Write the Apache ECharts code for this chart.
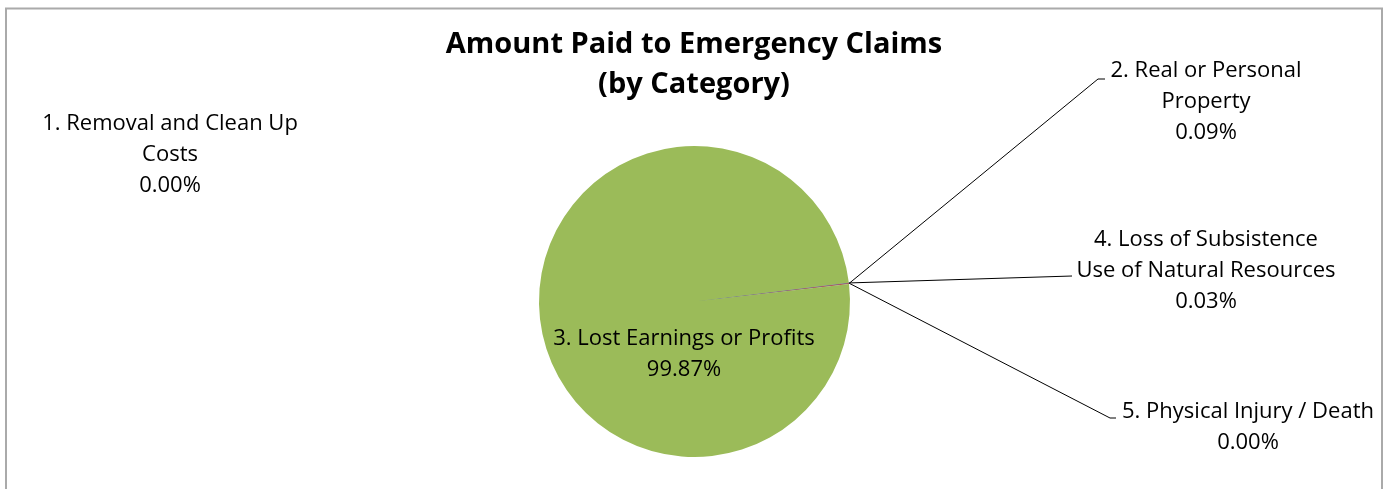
<!DOCTYPE html>
<html>
<head>
    <meta charset="utf-8" />
    <title>Amount Paid to Emergency Claims</title>
    <script src="https://cdn.jsdelivr.net/npm/echarts@6/dist/echarts.min.js"></script>
    <style>
        html, body {
            width: 100%;
            height: 100%;
            margin: 0px;
            padding: 0px;
            background: #fff;
        }
        #main {
            width: 1388px;
            height: 489px;
        }
    </style>
</head>
<body>
    <div id="main"></div>
<script type="text/javascript">
    // values (percent of amount paid)
    var categories = [
        '1. Removal and Clean Up\nCosts',
        '2. Real or Personal\nProperty',
        '3. Lost Earnings or Profits',
        '4. Loss of Subsistence\nUse of Natural Resources',
        '5. Physical Injury / Death'
    ];
    var shares = [0.00, 0.09, 99.87, 0.03, 0.00];
    var sliceColors = ['#4F81BD', '#C0504D', '#9BBB59', '#8064A2', '#4BACC6'];

    // where each label sits: [center x, top y, elbow x, elbow y, line end x]
    var labelSpots = [
        [170, 108, null, null, null],
        [1206, 55, 1098, 79, 1105],
        [684, 323, null, null, null],
        [1206, 224, 1072, 276, 1072],
        [1248, 396, 1110, 418, 1116]
    ];

    var FONT = '"Open Sans", Lato, sans-serif';
    var myChart = echarts.init(document.getElementById('main'));

    var pieData = categories.map(function (name, i) {
        var item = {
            name: name,
            value: shares[i],
            itemStyle: { color: sliceColors[i] }
        };
        if (i === 0) {
            // zero-width slice shows only as a thin blue edge
            item.itemStyle.borderColor = sliceColors[0];
            item.itemStyle.borderWidth = 1.2;
        }
        if (labelSpots[i][2] === null) {
            item.labelLine = { show: false };
        }
        return item;
    });

    myChart.setOption({
        animation: false,
        title: {
            text: 'Amount Paid to Emergency Claims\n(by Category)',
            left: 'center',
            top: 20,
            textStyle: {
                fontFamily: FONT,
                fontWeight: 'bold',
                fontSize: 29,
                lineHeight: 40,
                color: '#000'
            }
        },
        graphic: [{
            type: 'rect',
            shape: { x: 6, y: 8.5, width: 1376, height: 500 },
            style: { fill: 'none', stroke: '#aaaaaa', lineWidth: 2 },
            silent: true
        }],
        series: [{
            type: 'pie',
            center: [694.5, 301.5],
            radius: 155.5,
            startAngle: 6.8,
            clockwise: true,
            minAngle: 0,
            avoidLabelOverlap: false,
            data: pieData,
            label: {
                show: true,
                position: 'outside',
                fontFamily: FONT,
                fontSize: 22,
                lineHeight: 31,
                color: '#000',
                align: 'center',
                formatter: function (p) {
                    return p.name + '\n' + p.value.toFixed(2) + '%';
                }
            },
            labelLine: {
                show: true,
                lineStyle: { color: '#000', width: 1 }
            },
            labelLayout: function (params) {
                var s = labelSpots[params.dataIndex];
                var out = {
                    x: s[0],
                    y: s[1],
                    align: 'center',
                    verticalAlign: 'top'
                };
                if (s[2] !== null && params.labelLinePoints) {
                    var start = params.labelLinePoints[0];
                    out.labelLinePoints = [start, [s[2], s[3]], [s[4], s[3]]];
                }
                return out;
            },
            emphasis: { disabled: true }
        }]
    });

    window.addEventListener('resize', function () {
        myChart.resize();
    });
</script>
</body>
</html>
